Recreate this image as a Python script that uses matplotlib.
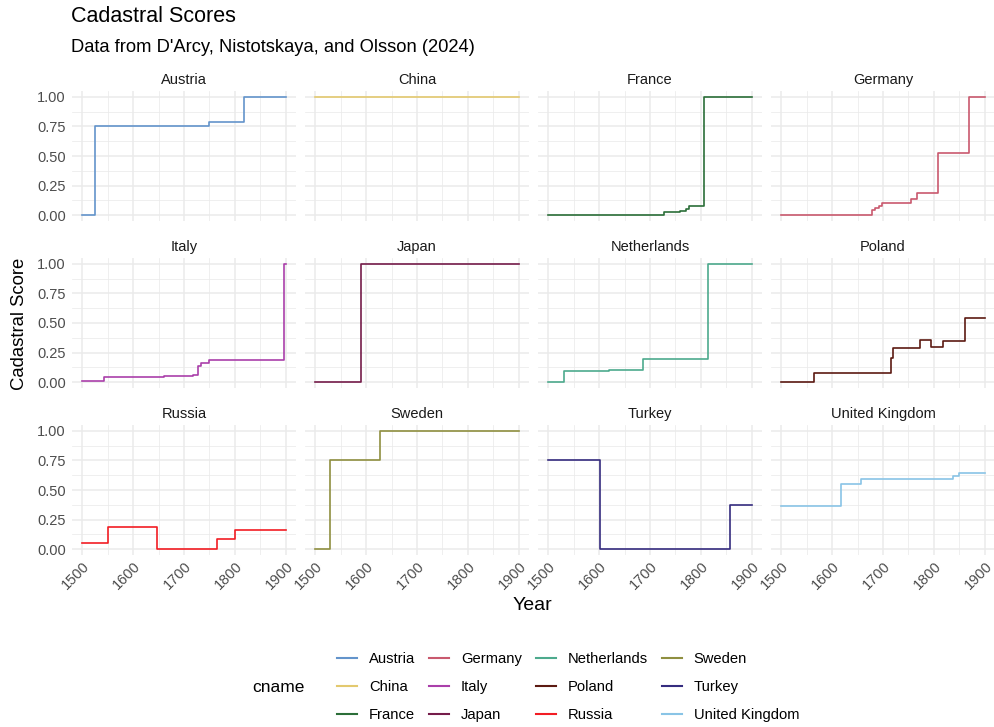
import numpy as np
import matplotlib
matplotlib.use("Agg")
import matplotlib.pyplot as plt
from matplotlib.lines import Line2D

plt.rcParams["font.family"] = ["Liberation Sans", "DejaVu Sans"]

# step data (year where each level starts, level)
countries = ["Austria", "China", "France", "Germany", "Italy", "Japan",
             "Netherlands", "Poland", "Russia", "Sweden", "Turkey", "United Kingdom"]

austria_yr = [1500, 1526, 1750, 1817, 1900]
austria_val = [0.0, 0.75, 0.785, 1.0, 1.0]
china_yr = [1500, 1900]
china_val = [1.0, 1.0]
france_yr = [1500, 1728, 1759, 1770, 1776, 1807, 1900]
france_val = [0.0, 0.023, 0.034, 0.05, 0.074, 1.0, 1.0]
germany_yr = [1500, 1679, 1684, 1693, 1699, 1755, 1766, 1808, 1868, 1900]
germany_val = [0.0, 0.042, 0.062, 0.08, 0.10, 0.14, 0.19, 0.527, 1.0, 1.0]
italy_yr = [1500, 1543, 1660, 1717, 1727, 1734, 1749, 1897, 1900]
italy_val = [0.01, 0.04, 0.048, 0.06, 0.14, 0.16, 0.185, 1.0, 1.0]
japan_yr = [1500, 1590, 1900]
japan_val = [0.0, 1.0, 1.0]
netherlands_yr = [1500, 1532, 1620, 1686, 1814, 1900]
netherlands_val = [0.0, 0.095, 0.10, 0.193, 1.0, 1.0]
poland_yr = [1500, 1564, 1716, 1720, 1772, 1795, 1818, 1861, 1900]
poland_val = [0.0, 0.08, 0.20, 0.29, 0.355, 0.295, 0.35, 0.54, 0.54]
russia_yr = [1500, 1551, 1646, 1765, 1800, 1900]
russia_val = [0.051, 0.19, 0.0, 0.088, 0.164, 0.164]
sweden_yr = [1500, 1529, 1628, 1900]
sweden_val = [0.0, 0.75, 1.0, 1.0]
turkey_yr = [1500, 1601, 1858, 1900]
turkey_val = [0.75, 0.0, 0.375, 0.375]
uk_yr = [1500, 1618, 1656, 1837, 1849, 1900]
uk_val = [0.368, 0.555, 0.59, 0.62, 0.64, 0.64]

series = {
    "Austria": (austria_yr, austria_val),
    "China": (china_yr, china_val),
    "France": (france_yr, france_val),
    "Germany": (germany_yr, germany_val),
    "Italy": (italy_yr, italy_val),
    "Japan": (japan_yr, japan_val),
    "Netherlands": (netherlands_yr, netherlands_val),
    "Poland": (poland_yr, poland_val),
    "Russia": (russia_yr, russia_val),
    "Sweden": (sweden_yr, sweden_val),
    "Turkey": (turkey_yr, turkey_val),
    "United Kingdom": (uk_yr, uk_val),
}

colors = {
    "Austria": "#6394CB", "China": "#E3C96F", "France": "#2B6E38",
    "Germany": "#C9596E", "Italy": "#AA3FAA", "Japan": "#751C4A",
    "Netherlands": "#4DAA8D", "Poland": "#5C1A12", "Russia": "#F21D24",
    "Sweden": "#8F8F40", "Turkey": "#352C7F", "United Kingdom": "#89C4E6",
}

W, H = 994, 727
fig = plt.figure(figsize=(W / 100, H / 100), dpi=100)

col_left = [72, 305, 538, 771]
row_top = [91, 258, 425]
pw, ph = 224, 130
txt = "#4D4D4D"

for i, name in enumerate(countries):
    r, c = divmod(i, 4)
    ax = fig.add_axes([col_left[c] / W, 1 - (row_top[r] + ph) / H, pw / W, ph / H])
    yr, val = series[name]
    ax.plot(yr, val, drawstyle="steps-post", color=colors[name], lw=1.2)
    ax.set_xlim(1480, 1920)
    ax.set_ylim(-0.05, 1.05)
    ax.set_xticks([1500, 1600, 1700, 1800, 1900])
    ax.set_xticks([1550, 1650, 1750, 1850], minor=True)
    ax.set_yticks([0, 0.25, 0.5, 0.75, 1.0])
    ax.set_yticks([0.125, 0.375, 0.625, 0.875], minor=True)
    ax.grid(which="major", color="#EBEBEB", lw=1.1)
    ax.grid(which="minor", color="#EBEBEB", lw=0.55)
    ax.set_axisbelow(True)
    for s in ax.spines.values():
        s.set_visible(False)
    ax.tick_params(which="both", length=0, colors=txt, labelsize=10.5)
    ax.tick_params(axis="y", pad=4.5)
    ax.tick_params(axis="x", pad=3)
    if c == 0:
        ax.set_yticklabels(["0.00", "0.25", "0.50", "0.75", "1.00"])
    else:
        ax.set_yticklabels([])
    if r == 2:
        ax.set_xticklabels(["1500", "1600", "1700", "1800", "1900"],
                           rotation=45, ha="right", rotation_mode="anchor")
    else:
        ax.set_xticklabels([])
    ax.set_title(name, fontsize=10.5, color="#1A1A1A", pad=5)

fig.text(71 / W, 1 - 17 / H, "Cadastral Scores", fontsize=15.5, va="center", ha="left")
fig.text(71 / W, 1 - 47 / H, "Data from D'Arcy, Nistotskaya, and Olsson (2024)",
         fontsize=13.2, va="center", ha="left")
fig.text(532 / W, 1 - 606 / H, "Year", fontsize=14, ha="center", va="center")
fig.text(20 / W, 1 - 324 / H, "Cadastral Score", fontsize=13.3, ha="center",
         va="center", rotation=90)

handles = [Line2D([], [], color=colors[n], lw=1.5) for n in countries]
fig.text(252 / W, 1 - 688 / H, "cname", fontsize=12.5, ha="left", va="center")
fig.legend(handles, countries, ncol=4, loc="center left",
           bbox_to_anchor=(324 / W, 1 - 687 / H), frameon=False,
           fontsize=10.6, handlelength=1.36, handletextpad=0.8,
           columnspacing=0.95, labelspacing=0.95)

fig.savefig("out.png", dpi=100, facecolor="white")
